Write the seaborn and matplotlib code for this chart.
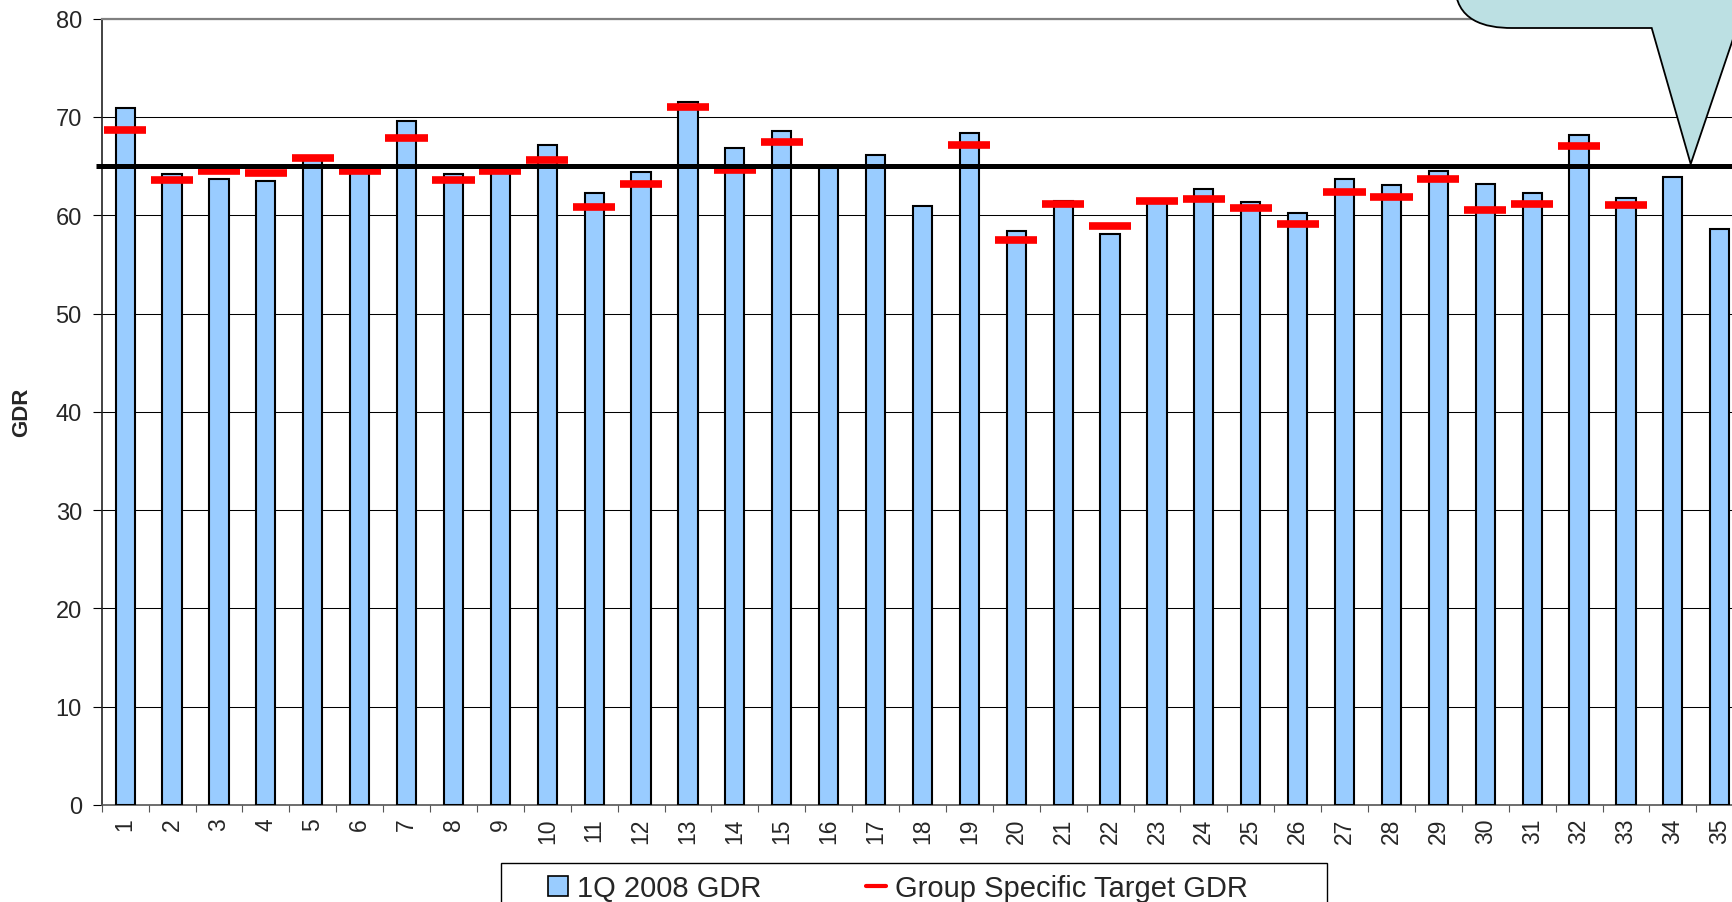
import numpy as np
import pandas as pd
import matplotlib.pyplot as plt
import seaborn as sns
from matplotlib.patches import Patch, Rectangle, PathPatch
from matplotlib.lines import Line2D
from matplotlib.path import Path

sns.set_theme(style="white")
plt.rcParams['font.family'] = ['Liberation Sans', 'DejaVu Sans']

# data
groups = [str(i) for i in range(1, 36)]
gdr_1q2008 = [70.9, 64.2, 63.7, 63.5, 65.6, 64.4, 69.6, 64.2, 64.4, 67.2,
              62.3, 64.4, 71.5, 66.8, 68.6, 65.0, 66.1, 60.9, 68.4, 58.4,
              61.5, 58.1, 61.6, 62.7, 61.4, 60.2, 63.7, 63.1, 64.5, 63.2,
              62.3, 68.2, 61.8, 63.9, 58.6]
target_gdr = [68.7, 63.6, 64.5, 64.3, 65.8, 64.5, 67.9, 63.6, 64.5, 65.6,
              60.8, 63.2, 71.0, 64.6, 67.5, np.nan, np.nan, np.nan, 67.2, 57.5,
              61.1, 58.9, 61.5, 61.7, 60.7, 59.1, 62.4, 61.9, 63.7, 60.5,
              61.1, 67.0, 61.0, np.nan, np.nan]
overall_target = 65
y_ticks = [0, 10, 20, 30, 40, 50, 60, 70, 80]

df = pd.DataFrame({'group': groups, 'gdr': gdr_1q2008, 'target': target_gdr})
df['pos'] = np.arange(len(df))

W, H = 1732, 903
fig = plt.figure(figsize=(W / 100, H / 100), dpi=100)
ax = fig.add_axes([101.7 / W, (H - 806) / H, 1641.5 / W, (806 - 19.7) / H])

bar_blue = '#99ccff'
sns.barplot(data=df, x='group', y='gdr', color=bar_blue, saturation=1,
            width=0.41, edgecolor='black', linewidth=1.5, ax=ax, zorder=3)

# group specific targets as short red dashes
tg = df.dropna(subset=['target'])
ax.hlines(tg['target'], tg['pos'] - 0.45, tg['pos'] + 0.45, color='red',
          lw=5.5, zorder=4)

# overall target line
ax.hlines(overall_target, -0.62, 34.6, color='black', lw=3.6, zorder=5,
          clip_on=False)

ax.set_xlim(-0.5, 34.5)
ax.set_ylim(0, 80)
ax.set_yticks(y_ticks)
ax.set_yticklabels([str(v) for v in y_ticks], fontsize=17)
ax.grid(axis='y', color='black', lw=0.75)
ax.set_axisbelow(True)
ax.set_xlabel('')
ax.set_ylabel('')

ax.set_xticks(df['pos'])
ax.set_xticklabels(groups, rotation=90, fontsize=16.5)
ax.set_xticks(np.arange(-0.5, 35, 1), minor=True)
ax.tick_params(axis='x', which='major', length=0, pad=9)
ax.tick_params(axis='x', which='minor', length=5, width=0.8, color='#555555',
               direction='out', bottom=True)
ax.tick_params(axis='y', length=6.3, width=0.8, pad=8, color='black',
               direction='out', left=True)

for side in ['left', 'bottom', 'top']:
    ax.spines[side].set_visible(True)
ax.spines['right'].set_visible(False)
ax.spines['left'].set_color('#222222')
ax.spines['left'].set_linewidth(1.2)
ax.spines['bottom'].set_color('#555555')
ax.spines['bottom'].set_linewidth(1.2)
ax.spines['top'].set_color('#808080')
ax.spines['top'].set_linewidth(1.6)

fig.text(21.7 / W, 1 - 412 / H, 'GDR', rotation=90, fontsize=16,
         fontweight='bold', ha='center', va='center')

# callout bubble in top right corner (cut off by the image edge)
def fp(x, y):
    return (x / W, 1 - y / H)

verts = [fp(1455, -40), fp(1455, -15), fp(1455, 22), fp(1485, 29), fp(1512, 29),
         fp(1651.7, 29), fp(1690.7, 165), fp(1755, -25), fp(1755, -40), fp(1455, -40)]
codes = [Path.MOVETO, Path.LINETO, Path.CURVE4, Path.CURVE4, Path.CURVE4,
         Path.LINETO, Path.LINETO, Path.LINETO, Path.LINETO, Path.CLOSEPOLY]
fig.add_artist(PathPatch(Path(verts, codes), facecolor='#bce0e3',
                         edgecolor='black', lw=1.3, transform=fig.transFigure,
                         zorder=10))

# legend with its own frame (cut off at the bottom)
fig.add_artist(Rectangle(fp(501, 940), (1327 - 501) / W, (940 - 864) / H,
                         facecolor='white', edgecolor='black', lw=1.0,
                         transform=fig.transFigure, zorder=6))
handles = [Patch(facecolor=bar_blue, edgecolor='black', lw=1.2),
           Line2D([], [], color='red', lw=3)]
leg = fig.legend(handles, ['1Q 2008 GDR', 'Group Specific Target GDR'],
                 loc='upper left', bbox_to_anchor=fp(548, 875), ncol=2,
                 frameon=False, fontsize=21, handlelength=0.685, handleheight=0.7,
                 handletextpad=0.31, columnspacing=3.6, borderpad=0,
                 borderaxespad=0)
leg.set_zorder(7)

fig.savefig('out.png', dpi=100)
